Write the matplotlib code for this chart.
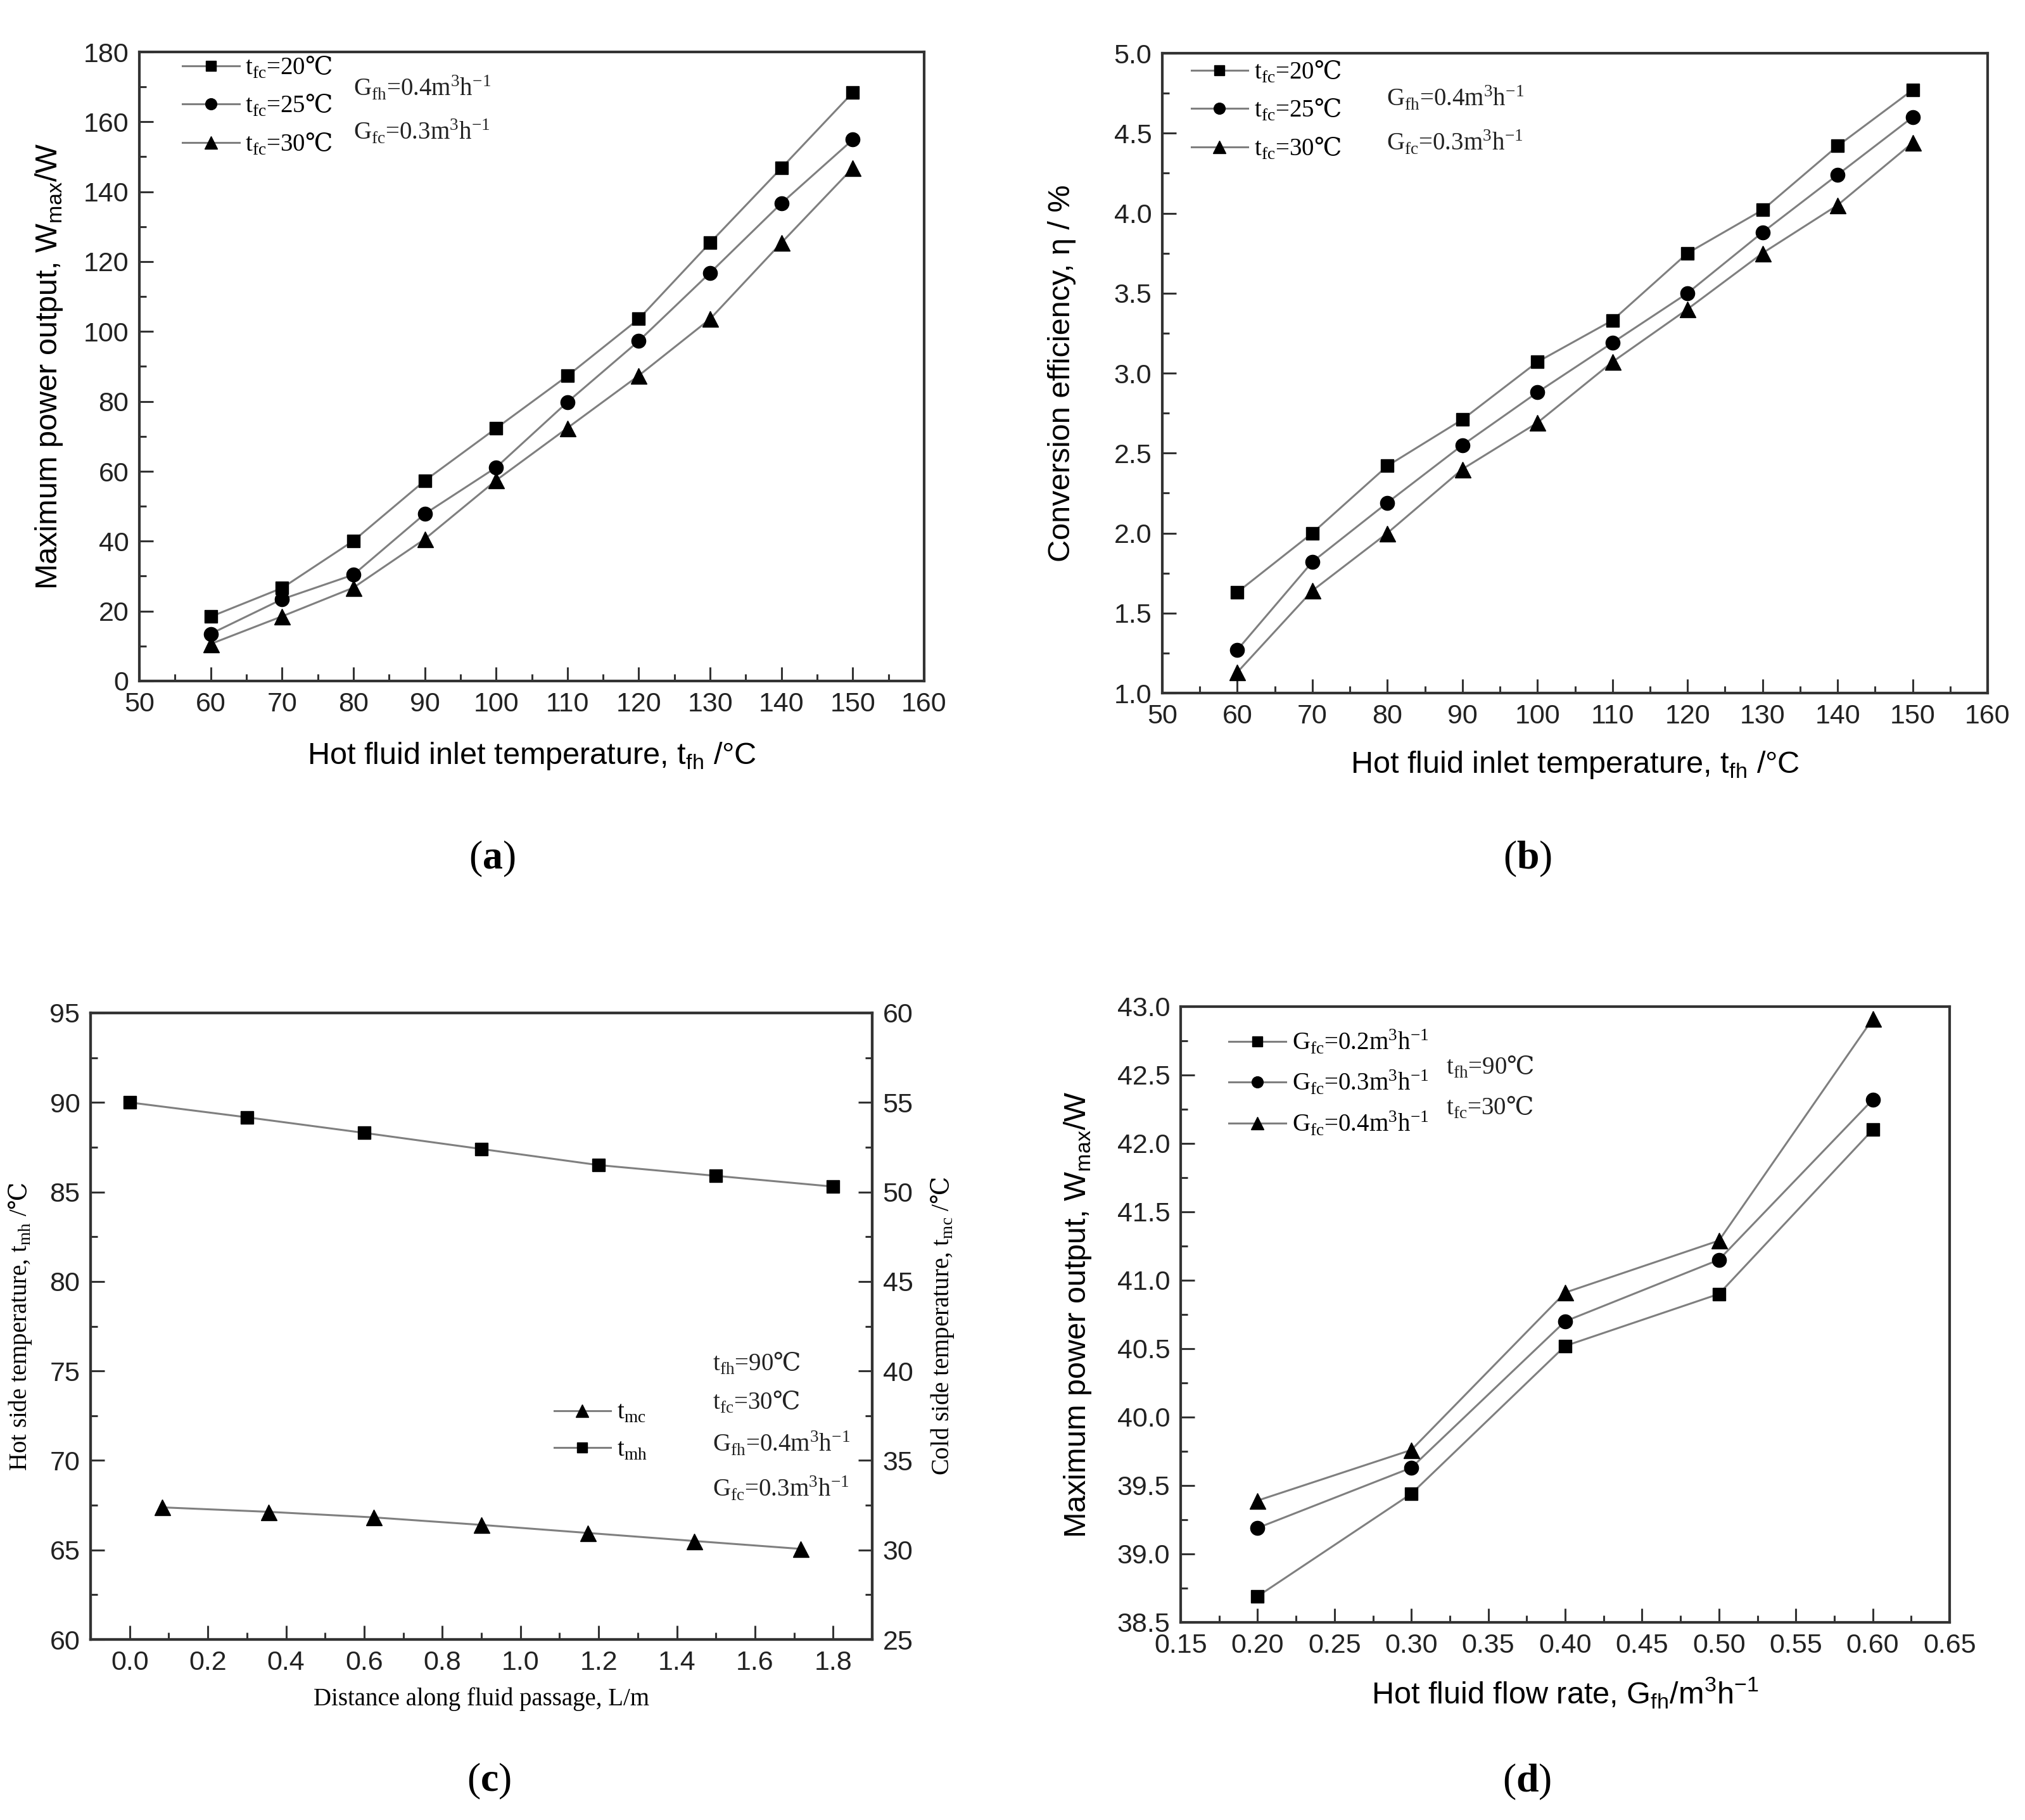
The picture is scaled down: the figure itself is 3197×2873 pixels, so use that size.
import numpy as np
import matplotlib.pyplot as plt
from matplotlib.ticker import MultipleLocator

plt.rcParams['font.family'] = ['Liberation Sans', 'DejaVu Sans']
plt.rcParams['mathtext.fontset'] = 'custom'
plt.rcParams['mathtext.rm'] = 'Liberation Serif'
plt.rcParams['mathtext.bf'] = 'Liberation Serif:bold'
plt.rcParams['mathtext.sf'] = 'DejaVu Serif'
plt.rcParams['mathtext.fallback'] = 'stix'
SERIF = ['Liberation Serif', 'DejaVu Sans']
DEGC = r'$\mathsf{℃}$'

# ---- data: (a) and (b), hot fluid inlet temperature ----
t_fh = [60, 70, 80, 90, 100, 110, 120, 130, 140, 150]
w_fc20 = [18.4, 26.6, 40.1, 57.3, 72.3, 87.3, 103.6, 125.4, 146.8, 168.4]
w_fc25 = [13.5, 23.4, 30.4, 47.8, 61.1, 79.8, 97.3, 116.8, 136.7, 154.9]
w_fc30 = [10.6, 18.5, 26.7, 40.6, 57.4, 72.4, 87.4, 103.6, 125.4, 146.8]
eta_fc20 = [1.63, 2.00, 2.42, 2.71, 3.07, 3.33, 3.75, 4.02, 4.42, 4.77]
eta_fc25 = [1.27, 1.82, 2.19, 2.55, 2.88, 3.19, 3.50, 3.88, 4.24, 4.60]
eta_fc30 = [1.13, 1.64, 2.00, 2.40, 2.69, 3.07, 3.40, 3.75, 4.05, 4.44]
fc_labels = [r't$_\mathregular{fc}$=20' + DEGC, r't$_\mathregular{fc}$=25' + DEGC,
             r't$_\mathregular{fc}$=30' + DEGC]

# ---- data: (c), along fluid passage ----
L_mh = [0.0, 0.3, 0.6, 0.9, 1.2, 1.5, 1.8]
t_mh = [90.0, 89.17, 88.3, 87.4, 86.5, 85.9, 85.3]
L_mc = [0.083, 0.355, 0.624, 0.90, 1.172, 1.445, 1.717]
t_mc = [32.38, 32.13, 31.82, 31.40, 30.95, 30.50, 30.06]

# ---- data: (d), hot fluid flow rate ----
G_fh = [0.2, 0.3, 0.4, 0.5, 0.6]
w_gc02 = [38.69, 39.44, 40.52, 40.90, 42.10]
w_gc03 = [39.19, 39.63, 40.70, 41.15, 42.32]
w_gc04 = [39.39, 39.76, 40.91, 41.29, 42.91]
gc_labels = [r'G$_\mathregular{fc}$=0.2m$^\mathregular{3}$h$^\mathregular{-1}$',
             r'G$_\mathregular{fc}$=0.3m$^\mathregular{3}$h$^\mathregular{-1}$',
             r'G$_\mathregular{fc}$=0.4m$^\mathregular{3}$h$^\mathregular{-1}$']

W, H = 3197, 2873
fig = plt.figure(figsize=(W / 100, H / 100), dpi=100)

def box(l, t, r, b):
    return [l / W, 1 - b / H, (r - l) / W, (b - t) / H]

LINE = '#7f7f7f'
SPINE = '#333333'
TICKSIZE = 31
LABELSIZE = 35
SERIFLABEL = 28
NOTESIZE = 28
markers = ['s', 'o', '^']
msizes = [15, 16, 18]

def style(ax, left=True, right=False):
    for s in ax.spines.values():
        s.set_linewidth(3)
        s.set_color(SPINE)
    ax.tick_params(which='both', direction='in', colors=SPINE, labelcolor='#222222',
                   top=False, right=right, left=left, width=2.2)
    ax.tick_params(which='major', length=16, labelsize=TICKSIZE, pad=12)
    ax.tick_params(which='minor', length=8)

def series(ax, x, ys, labels):
    for y, m, ms, lab in zip(ys, markers, msizes, labels):
        ax.plot(x, y, color=LINE, lw=2.2, marker=m, ms=ms, mfc='black', mec='black', label=lab)

def legend(ax, x0, y0, spacing):
    ax.legend(loc='upper left', bbox_to_anchor=(x0, y0), frameon=False,
              prop={'family': SERIF, 'size': NOTESIZE}, handlelength=2.3,
              handletextpad=0.25, borderpad=0, borderaxespad=0,
              labelspacing=spacing, markerscale=0.8)

def notes(ax, x, ys, texts):
    for y, s in zip(ys, texts):
        ax.text(x, y, s, transform=ax.transAxes, family=SERIF, fontsize=NOTESIZE,
                va='center', ha='left', color='#222222')

def panel_label(x, y, letter):
    fig.text(x / W, 1 - y / H, '($\\mathbf{%s}$)' % letter, family=SERIF,
             fontsize=46, ha='center', va='center')

G_notes = [r'G$_\mathregular{fh}$=0.4m$^\mathregular{3}$h$^\mathregular{-1}$',
           r'G$_\mathregular{fc}$=0.3m$^\mathregular{3}$h$^\mathregular{-1}$']

# (a)
ax = fig.add_axes(box(220, 82, 1459, 1075))
series(ax, t_fh, [w_fc20, w_fc25, w_fc30], fc_labels)
ax.set_xlim(50, 160)
ax.set_ylim(0, 180)
ax.xaxis.set_major_locator(MultipleLocator(10))
ax.xaxis.set_minor_locator(MultipleLocator(5))
ax.yaxis.set_major_locator(MultipleLocator(20))
ax.yaxis.set_minor_locator(MultipleLocator(10))
style(ax)
ax.set_xlabel(r'Hot fluid inlet temperature, t$_\mathregular{fh}$ /°C', fontsize=LABELSIZE, va='center')
ax.set_ylabel(r'Maximum power output, W$_\mathregular{max}$/W', fontsize=LABELSIZE, va='center')
ax.xaxis.set_label_coords(0.5, -0.119)
ax.yaxis.set_label_coords(-0.115, 0.5)
legend(ax, 0.055, 0.995, 0.55)
notes(ax, 0.273, [0.943, 0.873], G_notes)
panel_label(777, 1356, 'a')

# (b)
ax = fig.add_axes(box(1835, 84, 3138, 1094))
series(ax, t_fh, [eta_fc20, eta_fc25, eta_fc30], fc_labels)
ax.set_xlim(50, 160)
ax.set_ylim(1.0, 5.0)
ax.xaxis.set_major_locator(MultipleLocator(10))
ax.xaxis.set_minor_locator(MultipleLocator(5))
ax.yaxis.set_major_locator(MultipleLocator(0.5))
ax.yaxis.set_minor_locator(MultipleLocator(0.25))
ax.yaxis.set_major_formatter('{x:.1f}')
style(ax)
ax.set_xlabel(r'Hot fluid inlet temperature, t$_\mathregular{fh}$ /°C', fontsize=LABELSIZE, va='center')
ax.set_ylabel('Conversion efficiency, η / %', fontsize=LABELSIZE, va='center')
ax.xaxis.set_label_coords(0.5, -0.112)
ax.yaxis.set_label_coords(-0.122, 0.5)
legend(ax, 0.035, 0.99, 0.55)
notes(ax, 0.272, [0.93, 0.86], G_notes)
panel_label(2412, 1356, 'b')

# (c)
ax = fig.add_axes(box(143, 1599, 1377, 2588))
ax2 = ax.twinx()
h_mh, = ax.plot(L_mh, t_mh, color=LINE, lw=2.2, marker='s', ms=15, mfc='black', mec='black',
                label=r't$_\mathregular{mh}$')
h_mc, = ax2.plot(L_mc, t_mc, color=LINE, lw=2.2, marker='^', ms=18, mfc='black', mec='black',
                 label=r't$_\mathregular{mc}$')
ax.set_xlim(-0.1, 1.9)
ax.set_ylim(60, 95)
ax2.set_ylim(25, 60)
ax.xaxis.set_major_locator(MultipleLocator(0.2))
ax.xaxis.set_minor_locator(MultipleLocator(0.1))
ax.xaxis.set_major_formatter('{x:.1f}')
for a in (ax, ax2):
    a.yaxis.set_major_locator(MultipleLocator(5))
    a.yaxis.set_minor_locator(MultipleLocator(2.5))
style(ax)
style(ax2, left=False, right=True)
ax.set_xlabel('Distance along fluid passage, L/m', family=SERIF, fontsize=SERIFLABEL, va='center')
ax.set_ylabel(r'Hot side temperature, t$_\mathregular{mh}$ /' + DEGC, family=SERIF,
              fontsize=SERIFLABEL, va='center')
ax2.set_ylabel(r'Cold side temperature, t$_\mathregular{mc}$ /' + DEGC, family=SERIF,
               fontsize=SERIFLABEL, va='center')
ax.xaxis.set_label_coords(0.5, -0.095)
ax.yaxis.set_label_coords(-0.09, 0.5)
ax2.yaxis.set_label_coords(1.09, 0.5)
ax2.legend(handles=[h_mc, h_mh], loc='upper left', bbox_to_anchor=(0.593, 0.38), frameon=False,
           prop={'family': SERIF, 'size': NOTESIZE}, handlelength=2.3, handletextpad=0.25,
           borderpad=0, borderaxespad=0, labelspacing=0.55, markerscale=0.8)
notes(ax, 0.796, [0.44, 0.378, 0.312, 0.241],
      [r't$_\mathregular{fh}$=90' + DEGC, r't$_\mathregular{fc}$=30' + DEGC] + G_notes)
panel_label(772, 2812, 'c')

# (d)
ax = fig.add_axes(box(1864, 1589, 3078, 2561))
series(ax, G_fh, [w_gc02, w_gc03, w_gc04], gc_labels)
ax.set_xlim(0.15, 0.65)
ax.set_ylim(38.5, 43.0)
ax.xaxis.set_major_locator(MultipleLocator(0.05))
ax.xaxis.set_minor_locator(MultipleLocator(0.025))
ax.xaxis.set_major_formatter('{x:.2f}')
ax.yaxis.set_major_locator(MultipleLocator(0.5))
ax.yaxis.set_minor_locator(MultipleLocator(0.25))
ax.yaxis.set_major_formatter('{x:.1f}')
style(ax)
ax.set_xlabel(r'Hot fluid flow rate, G$_\mathregular{fh}$/m$^\mathregular{3}$h$^\mathregular{-1}$',
              fontsize=LABELSIZE, va='center')
ax.set_ylabel(r'Maximum power output, W$_\mathregular{max}$/W', fontsize=LABELSIZE, va='center')
ax.xaxis.set_label_coords(0.5, -0.115)
ax.yaxis.set_label_coords(-0.134, 0.5)
legend(ax, 0.063, 0.965, 0.55)
notes(ax, 0.345, [0.901, 0.835], [r't$_\mathregular{fh}$=90' + DEGC, r't$_\mathregular{fc}$=30' + DEGC])
panel_label(2411, 2813, 'd')

fig.savefig('out.png', dpi=100, facecolor='white')
